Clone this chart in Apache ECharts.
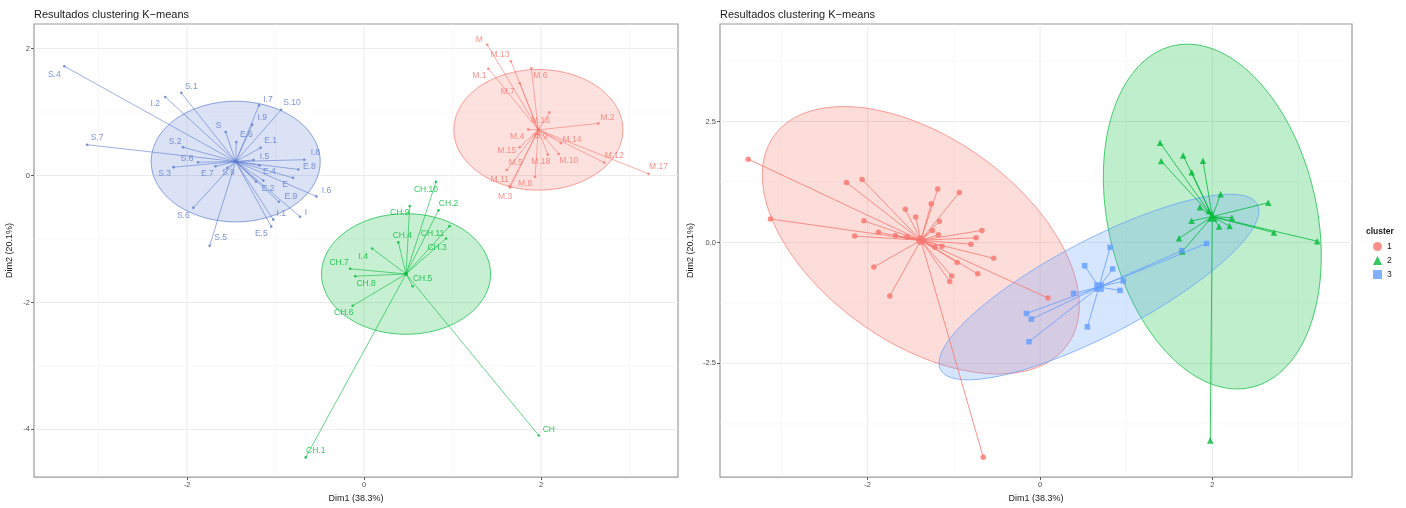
<!DOCTYPE html>
<html><head><meta charset="utf-8">
<script src="https://cdn.jsdelivr.net/npm/echarts@6/dist/echarts.min.js"></script>
<style>html,body{margin:0;padding:0;background:#fff}#c{width:1406px;height:508px}</style>
</head><body><div id="c"></div>
<script>
// ---------------- DATA ----------------
const pointNames = ['S.4','S.1','I.2','I.7','S.10','I.9','S','E.6','E.1','S.2','S.7','I.5','S.8','I.8','E.8','S.3','E.7','S.9','E.4','E','E.2','E.3','I.6','E.9','I','I.1','E.5','S.6','S.5',
 'M','M.13','M.1','M.6','M.7','M.16','M.2','M.4','M.9','M.14','M.15','M.10','M.18','M.12','M.17','M.5','M.11','M.8','M.3',
 'CH.10','CH.2','CH.9','CH.11','CH.3','CH.4','I.4','CH.7','CH.8','CH.5','CH.6','CH.1','CH'];
const dim1 = [-3.387,-2.065,-2.246,-1.187,-0.937,-1.263,-1.563,-1.443,-1.168,-2.045,-3.129,-1.248,-1.876,-0.674,-0.742,-2.152,-1.679,-1.545,-1.137,-0.802,-1.220,-1.180,-0.538,-0.962,-0.723,-1.025,-1.048,-1.929,-1.744,
 1.393,1.660,1.405,1.890,1.760,2.095,2.648,1.855,1.958,2.225,1.758,2.200,2.077,2.714,3.215,1.613,1.645,1.933,1.651,
 0.813,0.842,0.517,0.966,0.928,0.388,0.092,-0.157,-0.100,0.549,-0.128,-0.659,1.975];
const dim2 = [1.722,1.302,1.238,1.105,1.035,0.801,0.685,0.528,0.438,0.446,0.485,0.245,0.210,0.249,0.096,0.132,0.145,0.120,-0.080,-0.037,-0.098,0.159,-0.329,-0.414,-0.649,-0.695,-0.805,-0.509,-1.106,
 2.059,1.800,1.683,1.689,1.453,0.994,0.821,0.726,0.650,0.510,0.446,0.338,0.329,0.204,0.026,0.086,-0.170,-0.023,-0.188,
 -0.100,-0.547,-0.482,-0.798,-0.992,-1.053,-1.149,-1.469,-1.586,-1.745,-2.051,-4.441,-4.095];
const clusterLeft = [3,3,3,3,3,3,3,3,3,3,3,3,3,3,3,3,3,3,3,3,3,3,3,3,3,3,3,3,3,
 1,1,1,1,1,1,1,1,1,1,1,1,1,1,1,1,1,1,1,
 2,2,2,2,2,2,2,2,2,2,2,2,2];
const clusterRight = [1,1,1,1,1,1,1,1,1,1,1,1,1,1,1,1,1,1,1,1,1,1,1,1,1,1,1,1,1,
 2,2,2,2,2,2,2,2,2,2,2,2,2,2,2,2,3,3,2,
 3,3,3,3,3,3,1,3,3,3,3,1,2];
// cluster centres (cluster 1, 2, 3)
const centreLeftX = [1.97, 0.475, -1.45];
const centreLeftY = [0.72, -1.551, 0.22];
const centreRightX = [-1.384, 1.999, 0.684];
const centreRightY = [0.045, 0.535, -0.922];
// ellipse: centre + two conjugate semi-diameters (data units)
const ellLeftU = [[0.955,0],[0.955,0],[0.955,0]];
const ellLeftV = [[0,0.95],[0,0.95],[0,0.95]];
const ellRightU = [[1.839,-1.347],[1.2645,-0.816],[1.856,1.571]];
const ellRightV = [[0,2.414],[0,3.469],[0,1.10]];
const clusterNames = ['1','2','3'];
const xTicks = [-2,0,2];
const xMinor = [-3,-1,1,3];
const yTicksLeft = [-4,-2,0,2];
const yMinorLeft = [-3,-1,1];
const yTicksRight = [-2.5,0,2.5];
const yMinorRight = [-3.75,-1.25,1.25,3.75];

// ---------------- LAYOUT / STYLE ----------------
const FONT = 'Liberation Sans, Arial, sans-serif';
const colLeft = ['#F8766D','#00BA38','#5B7BD0'];
const colRight = ['#F8766D','#00BA38','#619CFF'];
const symRight = ['circle','triangle','rect'];
const symSizeRight = [5.5,6.5,5.5];
const LABEL_NUDGE = {
 'S.4':[-10,8],'S.1':[10,-6],'I.2':[-10,7],'I.7':[9,-6],'S.10':[11,-7],'I.9':[10,-7],'S':[-7,-6],'E.6':[10,-7],'E.1':[10,-7],'S.2':[-8,-6],
 'S.7':[10,-7],'I.5':[11,-3],'S.8':[-11,-4],'I.8':[11,-7],'E.8':[11,-3],'S.3':[-9,7],'E.7':[-8,7],'S.9':[1,5],'E.4':[6,-9],'E':[-8,7],
 'E.2':[12,7],'I.6':[10,-6],'E.9':[12,-5],'I':[6,-4],'I.1':[8,-6],'E.5':[-10,7],'S.6':[-10,8],'S.5':[11,-8],
 'M':[-8,-5],'M.13':[-11,-7],'M.1':[-9,7],'M.6':[9,7],'M.7':[-12,8],'M.16':[-9,8],'M.2':[9,-6],'M.4':[-11,7],'M.9':[3,2],'M.14':[11,-3],
 'M.15':[-13,3],'M.10':[10,7],'M.18':[-7,7],'M.12':[10,-7],'M.17':[10,-7],'M.5':[9,-7],'M.11':[-10,-7],'M.8':[-10,7],'M.3':[-5,9],
 'CH.10':[-10,8],'CH.2':[10,-7],'CH.9':[-10,7],'CH.11':[-17,7],'CH.3':[-9,9],'CH.4':[4,-7],'I.4':[-9,8],'CH.7':[-11,-6],'CH.8':[11,7],
 'CH.5':[10,-8],'CH.6':[-9,7],'CH.1':[10,-7],'CH':[10,-6]
};

function rgba(hex, a){const n=parseInt(hex.slice(1),16);return `rgba(${n>>16&255},${n>>8&255},${n&255},${a})`;}

function gridSeries(gi, xs, xm, ys, ym){
  const data=[];
  xm.forEach(v=>data.push([v,0,0])); ys.forEach(v=>data.push([v,1,1]));
  xs.forEach(v=>data.push([v,0,1])); ym.forEach(v=>data.push([v,1,0]));
  return {type:'custom', xAxisIndex:gi, yAxisIndex:gi, z:0, silent:true, data,
    renderItem(params, api){
      const cs=params.coordSys, v=api.value(0), o=api.value(1), maj=api.value(2);
      const style={stroke: maj? '#EBEBEB':'#F4F4F4', lineWidth: maj?1:0.6};
      if(o===0){const p=api.coord([v,0]);return {type:'line',shape:{x1:p[0],y1:cs.y,x2:p[0],y2:cs.y+cs.height},style};}
      const p=api.coord([0,v]);return {type:'line',shape:{x1:cs.x,y1:p[1],x2:cs.x+cs.width,y2:p[1]},style};
    }};
}
function ellipseSeries(gi, name, cx, cy, U, V, color, alpha){
  return {type:'custom', name, xAxisIndex:gi, yAxisIndex:gi, z:1, silent:true, clip:true, itemStyle:{color},
    data:[[cx,cy,U[0],U[1],V[0],V[1]]],
    renderItem(params, api){
      const c=[0,1,2,3,4,5].map(i=>api.value(i)); const pts=[];
      for(let i=0;i<160;i++){const t=i/160*2*Math.PI;
        pts.push(api.coord([c[0]+c[2]*Math.cos(t)+c[4]*Math.sin(t), c[1]+c[3]*Math.cos(t)+c[5]*Math.sin(t)]));}
      return {type:'polygon', shape:{points:pts}, style:{fill:rgba(color,alpha), stroke:color, lineWidth:0.7}};
    }};
}
function starSeries(gi, name, idx, cx, cy, color, w){
  return {type:'custom', name, xAxisIndex:gi, yAxisIndex:gi, z:2, silent:true, itemStyle:{color},
    data: idx.map(i=>[dim1[i],dim2[i],cx,cy]),
    renderItem(params, api){
      const a=api.coord([api.value(0),api.value(1)]), b=api.coord([api.value(2),api.value(3)]);
      return {type:'line', shape:{x1:a[0],y1:a[1],x2:b[0],y2:b[1]}, style:{stroke:color, lineWidth:w}};
    }};
}

const series=[];
series.push(gridSeries(0, xTicks, xMinor, yTicksLeft, yMinorLeft));
series.push(gridSeries(1, xTicks, xMinor, yTicksRight, yMinorRight));
const allIdx = pointNames.map((_,i)=>i);
// right panel first so legend picks scatter symbols/colours
for(let k=0;k<3;k++){
  const idx = allIdx.filter(i=>clusterRight[i]===k+1);
  const col = colRight[k];
  series.push({type:'scatter', name:clusterNames[k], xAxisIndex:1, yAxisIndex:1, z:3, symbol:symRight[k], symbolSize:symSizeRight[k],
    itemStyle:{color:col}, silent:true, data: idx.map(i=>[dim1[i],dim2[i]])});
  series.push(ellipseSeries(1,clusterNames[k],centreRightX[k],centreRightY[k],ellRightU[k],ellRightV[k],col,0.25));
  series.push(starSeries(1,clusterNames[k],idx,centreRightX[k],centreRightY[k],col,0.8));
  series.push({type:'scatter', name:clusterNames[k], xAxisIndex:1, yAxisIndex:1, z:4, symbol:symRight[k], symbolSize:symSizeRight[k]+4,
    itemStyle:{color:col}, silent:true, data:[[centreRightX[k],centreRightY[k]]]});
}
// left panel
for(let k=0;k<3;k++){
  const idx = allIdx.filter(i=>clusterLeft[i]===k+1);
  const col = colLeft[k];
  series.push(ellipseSeries(0,'L'+(k+1),centreLeftX[k],centreLeftY[k],ellLeftU[k],ellLeftV[k],col,0.22));
  series.push(starSeries(0,'L'+(k+1),idx,centreLeftX[k],centreLeftY[k],col,0.6));
  series.push({type:'scatter', name:'L'+(k+1), xAxisIndex:0, yAxisIndex:0, z:3, symbol:'circle', symbolSize:2.6,
    itemStyle:{color:col}, silent:true,
    data: idx.map(i=>{const nd=LABEL_NUDGE[pointNames[i]];return {name:pointNames[i], value:[dim1[i],dim2[i]],
      label:{show:!!nd, offset: nd||[0,0]}};}),
    label:{show:true, position:'inside', formatter:'{b}', color:col, fontSize:8.5, fontFamily:FONT}});
  series.push({type:'scatter', name:'L'+(k+1), xAxisIndex:0, yAxisIndex:0, z:4, symbol:'circle', symbolSize:4,
    itemStyle:{color:col}, silent:true, data:[[centreLeftX[k],centreLeftY[k]]]});
}

function xAxisCfg(gi,min,max){
  return {gridIndex:gi, type:'value', min, max, splitLine:{show:false}, axisLine:{show:false, onZero:false},
    axisTick:{show:true, customValues:xTicks, length:3, lineStyle:{color:'#333', width:0.8}},
    axisLabel:{customValues:xTicks, fontSize:7.5, color:'#4D4D4D', margin:4, fontFamily:FONT},
    name:'Dim1 (38.3%)', nameLocation:'middle', nameGap:16, nameTextStyle:{fontSize:9, color:'#1A1A1A', fontFamily:FONT}};
}
function yAxisCfg(gi,min,max,ticks,fmt,gap){
  return {gridIndex:gi, type:'value', min, max, splitLine:{show:false}, axisLine:{show:false, onZero:false},
    axisTick:{show:true, customValues:ticks, length:3, lineStyle:{color:'#333', width:0.8}},
    axisLabel:{customValues:ticks, fontSize:7.5, color:'#4D4D4D', margin:4, fontFamily:FONT, formatter:fmt},
    name:'Dim2 (20.1%)', nameLocation:'middle', nameGap:gap, nameRotate:90, nameTextStyle:{fontSize:9, color:'#1A1A1A', fontFamily:FONT}};
}

const chart = echarts.init(document.getElementById('c'), null, {renderer:'canvas'});
chart.setOption({
  animation:false,
  backgroundColor:'#fff',
  title:[
    {text:'Resultados clustering K\u2212means', left:34, top:9, padding:0, textStyle:{fontSize:11, fontWeight:'normal', color:'#1A1A1A', fontFamily:FONT}},
    {text:'Resultados clustering K\u2212means', left:720, top:9, padding:0, textStyle:{fontSize:11, fontWeight:'normal', color:'#1A1A1A', fontFamily:FONT}},
    {text:'cluster', left:1366, top:227, padding:0, textStyle:{fontSize:8.5, fontWeight:'bold', color:'#1A1A1A', fontFamily:FONT}}
  ],
  legend:{data:[{name:'1',icon:'circle'},{name:'2',icon:'triangle'},{name:'3',icon:'rect'}],
    orient:'vertical', left:1368, top:237, itemWidth:9, itemHeight:9, itemGap:5, selectedMode:false,
    textStyle:{fontSize:8.5, color:'#1A1A1A', fontFamily:FONT}},
  grid:[
    {left:34, top:24, width:644, height:459, show:true, borderColor:'#9A9A9A', borderWidth:1.2, backgroundColor:'#fff'},
    {left:720, top:24, width:632, height:459, show:true, borderColor:'#9A9A9A', borderWidth:1.2, backgroundColor:'#fff'}
  ],
  xAxis:[xAxisCfg(0,-3.729,3.548), xAxisCfg(1,-3.714,3.62)],
  yAxis:[yAxisCfg(0,-4.751,2.387,yTicksLeft,v=>String(v),20), yAxisCfg(1,-4.851,4.516,yTicksRight,v=>v.toFixed(1),25)],
  series
});
</script></body></html>
